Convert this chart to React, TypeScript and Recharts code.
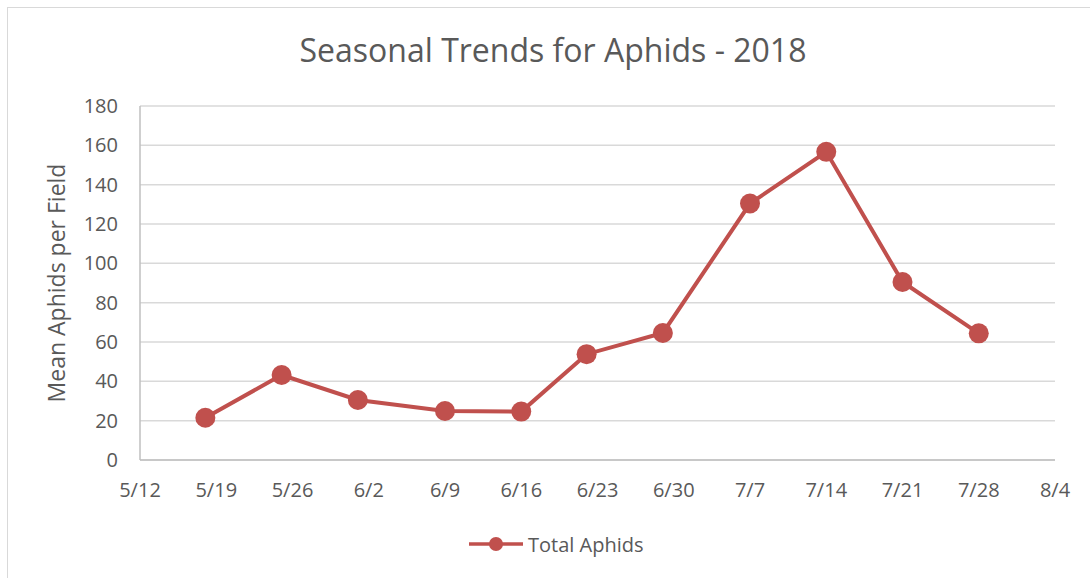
import React from 'react';
import {
  LineChart,
  Line,
  XAxis,
  YAxis,
  CartesianGrid,
  Legend,
} from 'recharts';

// sampling dates (2018) and mean aphid counts
const sampleDates = ['5/18', '5/25', '6/1', '6/9', '6/16', '6/22', '6/29', '7/7', '7/14', '7/21', '7/28'];
const totalAphids = [21.5, 43.2, 30.5, 24.9, 24.6, 53.8, 64.6, 130.4, 156.7, 90.5, 64.4];

const xTickLabels = ['5/12', '5/19', '5/26', '6/2', '6/9', '6/16', '6/23', '6/30', '7/7', '7/14', '7/21', '7/28', '8/4'];
const yTicks = [0, 20, 40, 60, 80, 100, 120, 140, 160, 180];

const RED = '#C0504D';
const TEXT = '#595959';
const FONT = '"Open Sans", sans-serif';

// M/D -> day number in 2018
const toDay = (md: string) => {
  const [m, d] = md.split('/').map(Number);
  return Date.UTC(2018, m - 1, d) / 86400000;
};
const fromDay = (day: number) => {
  const dt = new Date(day * 86400000);
  return `${dt.getUTCMonth() + 1}/${dt.getUTCDate()}`;
};

const data = sampleDates.map((d, i) => ({ day: toDay(d), total: totalAphids[i] }));
const xTicks = xTickLabels.map(toDay);

const LegendContent = () => (
  <div style={{ display: 'flex', alignItems: 'center', paddingLeft: 469, height: 24 }}>
    <svg width={54} height={24}>
      <line x1={0} y1={12} x2={54} y2={12} stroke={RED} strokeWidth={3.5} />
      <circle cx={27} cy={12} r={7} fill={RED} />
    </svg>
    <span style={{ marginLeft: 5, color: TEXT, fontSize: 20, fontFamily: FONT }}>Total Aphids</span>
  </div>
);

export default function App() {
  return (
    <div style={{ position: 'absolute', left: 0, top: 0, width: 1090, height: 578, background: '#fff' }}>
      <div
        style={{
          position: 'absolute',
          left: 7,
          top: 7,
          width: 1100,
          height: 600,
          border: '1px solid #d9d9d9',
        }}
      />
      <div
        style={{
          position: 'absolute',
          left: 0,
          top: 28,
          width: 1106,
          textAlign: 'center',
          fontFamily: FONT,
          fontSize: 32,
          color: TEXT,
          lineHeight: '44px',
        }}
      >
        Seasonal Trends for Aphids - 2018
      </div>
      <div style={{ position: 'absolute', left: 0, top: 0 }}>
        <LineChart
          width={1090}
          height={578}
          data={data}
          margin={{ top: 106, right: 35, bottom: 22, left: 0 }}
        >
          <CartesianGrid vertical={false} stroke="#d9d9d9" strokeWidth={1.5} />
          <XAxis
            dataKey="day"
            type="number"
            domain={[xTicks[0], xTicks[xTicks.length - 1]]}
            ticks={xTicks}
            tickFormatter={fromDay}
            height={72}
            stroke="#bfbfbf"
            strokeWidth={1.5}
            tickLine={false}
            tickMargin={17}
            tick={{ fill: TEXT, fontSize: 20, fontFamily: FONT }}
          />
          <YAxis
            domain={[0, 180]}
            ticks={yTicks}
            width={140}
            stroke="#bfbfbf"
            strokeWidth={1.5}
            tickLine={false}
            tickMargin={16}
            tick={{ fill: TEXT, fontSize: 20, fontFamily: FONT }}
            label={{
              value: 'Mean Aphids per Field',
              angle: -90,
              position: 'insideLeft',
              offset: 0,
              dx: 57,
              style: { fill: TEXT, fontSize: 23, fontFamily: FONT, textAnchor: 'middle' },
            }}
          />
          <Legend
            verticalAlign="bottom"
            wrapperStyle={{ left: 0, width: 1090 }}
            content={<LegendContent />}
          />
          <Line
            dataKey="total"
            name="Total Aphids"
            stroke={RED}
            strokeWidth={4}
            dot={{ r: 10, fill: RED, stroke: RED, strokeWidth: 0 }}
            activeDot={false}
            isAnimationActive={false}
          />
        </LineChart>
      </div>
    </div>
  );
}
